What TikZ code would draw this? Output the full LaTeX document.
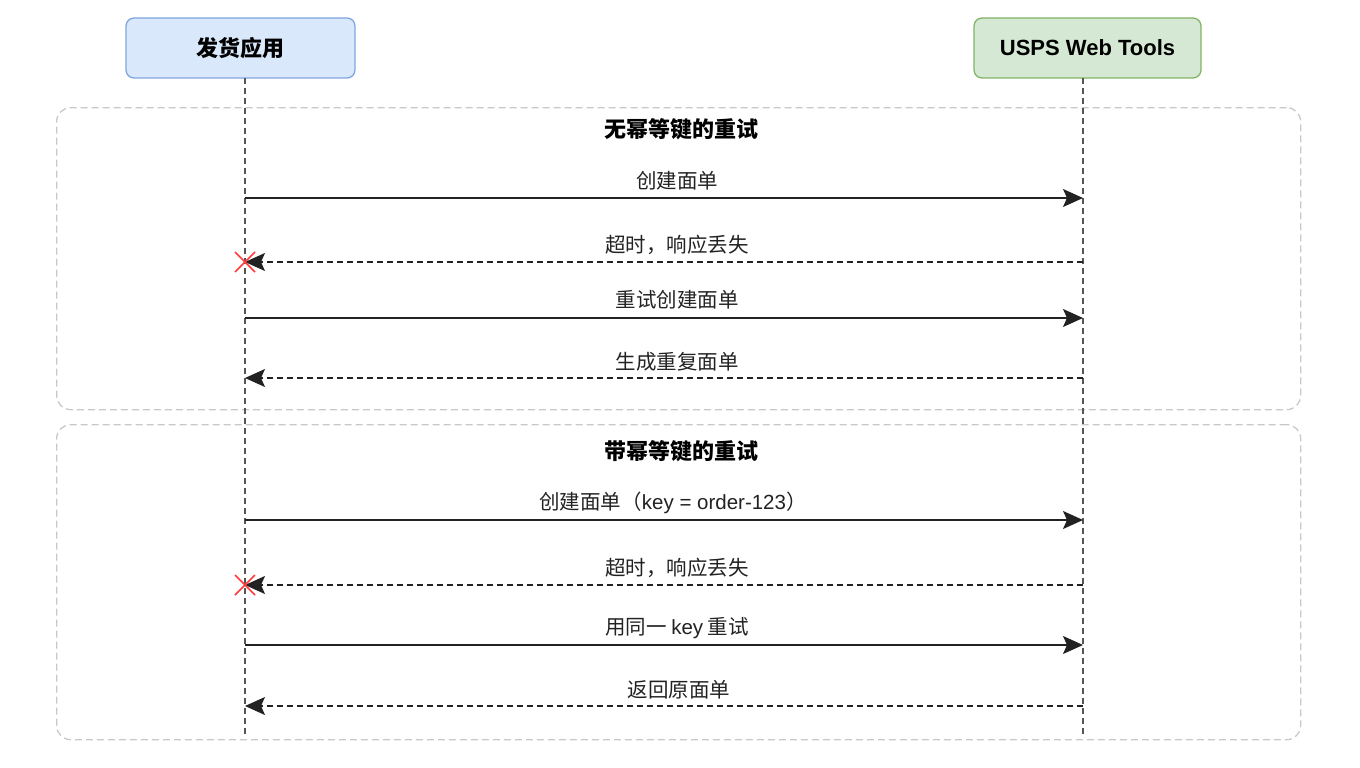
\documentclass[tikz,border=0pt]{standalone}
\usepackage{fontspec}
\setmainfont{Liberation Sans}
\newfontfamily\cjk{Noto Sans CJK SC}
\usetikzlibrary{arrows.meta}
\definecolor{bluefill}{HTML}{DAE8FC}
\definecolor{bluedraw}{HTML}{7EA6E0}
\definecolor{greenfill}{HTML}{D5E8D4}
\definecolor{greendraw}{HTML}{82B366}
\definecolor{framegray}{HTML}{C8C8C8}
\definecolor{lifegray}{HTML}{555555}
\definecolor{msgcol}{HTML}{222222}
\definecolor{xred}{HTML}{FF3B3B}
\begin{document}
\begin{tikzpicture}[x=1pt,y=-1pt,
  actor/.style={draw, line width=1.3pt, rounded corners=8pt, minimum width=229pt, minimum height=60pt, font=\fontsize{22}{25}\selectfont\bfseries, text=black},
  lifeline/.style={draw=lifegray, line width=1.1pt, dash pattern=on 6pt off 4pt},
  frame/.style={draw=framegray, line width=1.3pt, dash pattern=on 7pt off 4pt, rounded corners=14pt},
  title/.style={font=\cjk\fontsize{22}{25}\selectfont\bfseries, text=black},
  msglabel/.style={font=\cjk\fontsize{20.5}{23}\selectfont, text=msgcol},
  callmsg/.style={draw=msgcol, line width=1.3pt, -{Stealth[length=20pt,width=18pt,inset=4pt]}},
  replymsg/.style={draw=msgcol, line width=1.3pt, dash pattern=on 6pt off 4pt, -{Stealth[length=20pt,width=18pt,inset=4pt]}},
  lost/.style={draw=xred, line width=1.7pt}
]
\useasboundingbox (0,0) rectangle (1360,768);
% frames
\node[frame, minimum width=1244pt, minimum height=302pt, anchor=north west, inner sep=0pt] (f1) at (56,107) {};
\node[frame, minimum width=1244pt, minimum height=315pt, anchor=north west, inner sep=0pt] (f2) at (56,424) {};
% actors
\node[actor, fill=bluefill, draw=bluedraw] (app) at (240.5,48) {\cjk 发货应用};
\node[actor, fill=greenfill, draw=greendraw, minimum width=227pt] (usps) at (1087.5,48) {USPS Web Tools};
% lifelines
\coordinate (a0) at (245,78);
\coordinate (a1) at (245,735);
\coordinate (u0) at (1083,78);
\coordinate (u1) at (1083,735);
\draw[lifeline] (a0) -- (a1);
\draw[lifeline] (u0) -- (u1);
% titles
\node[title] (t1) at (681,129) {无幂等键的重试};
\node[title] (t2) at (681,451) {带幂等键的重试};
% message endpoints
\foreach \n/\y in {1/198,2/262,3/318,4/378,5/520,6/585,7/645,8/706}{
  \coordinate (L\n) at (245,\y);
  \coordinate (R\n) at (1083,\y);
}
\draw[callmsg] (L1) -- (R1);
\draw[replymsg] (R2) -- (L2);
\draw[callmsg] (L3) -- (R3);
\draw[replymsg] (R4) -- (L4);
\draw[callmsg] (L5) -- (R5);
\draw[replymsg] (R6) -- (L6);
\draw[callmsg] (L7) -- (R7);
\draw[replymsg] (R8) -- (L8);
\node[msglabel] (m1) at (677,181) {创建面单};
\node[msglabel] (m2) at (677,245) {超时，响应丢失};
\node[msglabel] (m3) at (677,300) {重试创建面单};
\node[msglabel] (m4) at (677,362) {生成重复面单};
\node[msglabel] (m5) at (673,503) {创建面单（\fontspec{Liberation Sans}key = order-123\cjk ）};
\node[msglabel] (m6) at (677,568) {超时，响应丢失};
\node[msglabel] (m7) at (677,628) {用同一 \fontspec{Liberation Sans}key\cjk{} 重试};
\node[msglabel] (m8) at (679,690) {返回原面单};
% lost markers
\foreach \n in {2,6}{
  \draw[lost] ([shift={(-10,-10)}]L\n) -- ([shift={(10,10)}]L\n);
  \draw[lost] ([shift={(-10,10)}]L\n) -- ([shift={(10,-10)}]L\n);
}
\end{tikzpicture}
\end{document}
